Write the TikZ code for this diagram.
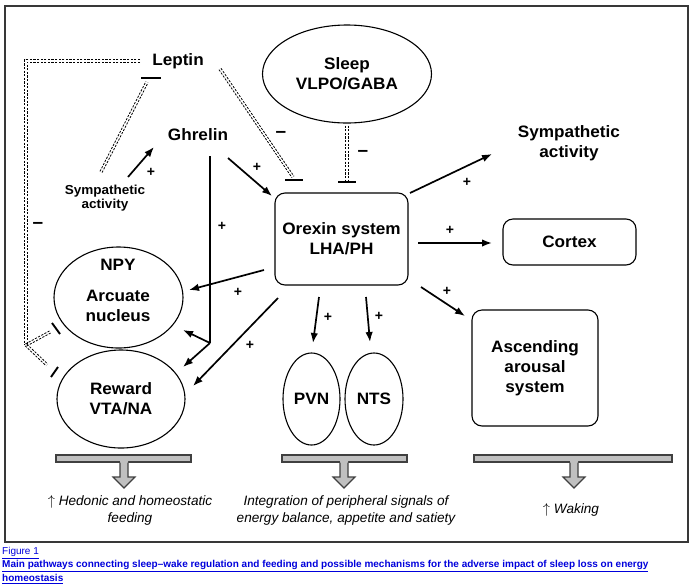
\documentclass[tikz,border=0pt]{standalone}
\usepackage{fontspec}
\setmainfont{Liberation Sans}
\newfontfamily\labf[FakeStretch=1.04]{Liberation Sans}
\usetikzlibrary{arrows.meta,shapes.geometric,calc}
\definecolor{capblue}{RGB}{0,0,220}
\definecolor{bargrey}{RGB}{192,192,192}
\tikzset{
  lab/.style={font=\labf\bfseries\fontsize{16.5}{20}\selectfont, align=center, inner sep=0pt},
  labs/.style={font=\labf\bfseries\fontsize{13}{14.5}\selectfont, align=center, inner sep=0pt},
  boxn/.style={draw, rounded corners=10pt, line width=1.1pt},
  ell/.style={draw, ellipse, line width=1.1pt, inner sep=0pt},
  arr/.style={-{Latex[length=10pt,width=7.5pt]}, line width=1.7pt},
  plainline/.style={line width=1.5pt},
  dd/.style={line width=0.8pt, dash pattern=on 2.2pt off 1.4pt},
  tbar/.style={line width=1.9pt},
  plus/.style={font=\bfseries\fontsize{14}{14}\selectfont, inner sep=0pt},
  minus/.style={font=\bfseries\fontsize{19}{19}\selectfont, inner sep=0pt},
  outt/.style={font=\itshape\fontsize{13.6}{17}\selectfont, align=center, inner sep=0pt},
  gbar/.style={fill=bargrey, draw=black!75, line width=1.2pt},
  captxt/.style={text=capblue, inner sep=0pt, anchor=west}
}
\newcommand{\dbl}[2]{%
  \draw[dd] ($(#1)!1.2pt!90:(#2)$) -- ($(#2)!1.2pt!-90:(#1)$);
  \draw[dd] ($(#1)!1.2pt!-90:(#2)$) -- ($(#2)!1.2pt!90:(#1)$);}
\begin{document}
\begin{tikzpicture}[x=1pt,y=-1pt]
\useasboundingbox (0,0) rectangle (695,587);
\fill[white] (0,0) rectangle (695,587);
\draw[line width=2.5pt, black!78] (5,6) rectangle (688,542);

% nodes
\node[lab] (leptin) at (178,61) {Leptin};
\node[ell, lab, minimum width=169, minimum height=98] (sleep) at (347,74) {\fontsize{16.5}{19}\selectfont Sleep\\VLPO/GABA};
\node[lab] (ghrelin) at (198,135) {Ghrelin};
\node[labs] (symL) at (105,198) {Sympathetic\\activity};
\node[lab] (symR) at (569,143) {Sympathetic\\activity};
\node[boxn, lab, minimum width=133, minimum height=92] (orexin) at (341.5,239) {Orexin system\\LHA/PH};
\node[boxn, lab, minimum width=133, minimum height=46] (cortex) at (569.5,242) {Cortex};
\node[boxn, lab, minimum width=126, minimum height=116] (asc) at (535,368) {Ascending\\arousal\\system};
\node[ell, lab, minimum width=57, minimum height=92] (pvn) at (311.5,399) {PVN};
\node[ell, lab, minimum width=58, minimum height=92] (nts) at (374,399) {NTS};
\node[ell, minimum width=129, minimum height=101] (arc) at (118.5,297.5) {};
\node[lab] (npy) at (118,265) {NPY};
\node[lab] (arct) at (118,306) {Arcuate\\nucleus};
\node[ell, lab, minimum width=128, minimum height=98] (rew) at (121,399) {Reward\\VTA/NA};

% arrows
\draw[arr] ([shift={(23,-21)}]symL.center) -- ([shift={(-44,12)}]ghrelin.center);
\draw[arr] ([shift={(30,23)}]ghrelin.center) -- ([shift={(-69.5,-43)}]orexin.center);
\coordinate (gj) at (210,343);
\draw[plainline] ([shift={(12,21)}]ghrelin.center) -- (gj);
\draw[arr] (gj) -- ([shift={(64.5,32.5)}]arc.center);
\draw[arr] (gj) -- ([shift={(62,-32)}]rew.center);
\draw[arr] ([shift={(68.5,-46)}]orexin.center) -- ([shift={(-77,11)}]symR.center);
\draw[arr] ([shift={(76.5,4)}]orexin.center) -- ([shift={(-77.5,1)}]cortex.center);
\draw[arr] ([shift={(79.5,48)}]orexin.center) -- ([shift={(-70,-52)}]asc.center);
\draw[arr] ([shift={(24.5,58)}]orexin.center) -- ([shift={(-4,-57)}]nts.center);
\draw[arr] ([shift={(-22.5,58)}]orexin.center) -- ([shift={(1.5,-56)}]pvn.center);
\draw[arr] ([shift={(-77.5,31)}]orexin.center) -- ([shift={(70.5,-7.5)}]arc.center);
\draw[arr] ([shift={(-63.5,59)}]orexin.center) -- ([shift={(72,-13)}]rew.center);

% inhibitory links
\coordinate (i1a) at ([shift={(-4,-26)}]symL.center);
\coordinate (i1b) at ([shift={(-31,21)}]leptin.center);
\dbl{i1a}{i1b}
\draw[tbar] ([shift={(-37,17)}]leptin.center) -- ([shift={(-17,17)}]leptin.center);
\coordinate (i2a) at ([shift={(42,8)}]leptin.center);
\coordinate (i2b) at ([shift={(-48.5,-62)}]orexin.center);
\dbl{i2a}{i2b}
\draw[tbar] ([shift={(-56.5,-59)}]orexin.center) -- ([shift={(-38.5,-59)}]orexin.center);
\coordinate (i3a) at ([shift={(0,2)}]sleep.south);
\coordinate (i3b) at ([shift={(5.5,-59)}]orexin.center);
\dbl{i3a}{i3b}
\draw[tbar] ([shift={(-3.5,-57)}]orexin.center) -- ([shift={(14.5,-57)}]orexin.center);
\coordinate (lj) at (26,345);
\coordinate (lp) at ([shift={(-38,0)}]leptin.center);
\coordinate (lc) at (lj |- lp);
\draw[dd] ([shift={(0,-1.2)}]lp) -- ([shift={(-1.2,-1.2)}]lc) -- ([shift={(-1.2,0)}]lj);
\draw[dd] ([shift={(0,1.2)}]lp) -- ([shift={(1.2,1.2)}]lc) -- ([shift={(1.2,0)}]lj);
\coordinate (i4b) at ([shift={(-68.5,34.5)}]arc.center);
\coordinate (i5b) at ([shift={(-74,-34)}]rew.center);
\dbl{lj}{i4b}
\dbl{lj}{i5b}
\draw[tbar] ([shift={(-66.5,25.5)}]arc.center) -- ([shift={(-58.5,36.5)}]arc.center);
\draw[tbar] ([shift={(-70,-22)}]rew.center) -- ([shift={(-63,-32)}]rew.center);

% signs
\node[plus] at (151,172) {+};
\node[plus] at (257,167) {+};
\node[plus] at (222,226) {+};
\node[plus] at (467,182) {+};
\node[plus] at (450,230) {+};
\node[plus] at (447,291) {+};
\node[plus] at (379,316) {+};
\node[plus] at (328,317) {+};
\node[plus] at (238,292) {+};
\node[plus] at (250,345) {+};
\node[minus] at (281,134) {–};
\node[minus] at (363,153) {–};
\node[minus] at (38,225) {–};

% grey bars and block arrows
\foreach \xa/\xb/\cx in {56/191/124, 282/407/344, 474/672/574}{
  \draw[gbar] (\xa,455) rectangle (\xb,462);
  \fill[bargrey] (\cx-4,460.5) -- (\cx-4,477) -- (\cx-11,477) -- (\cx,488) -- (\cx+11,477) -- (\cx+4,477) -- (\cx+4,460.5) -- cycle;
  \draw[black!75, line width=1.2pt, line join=miter] (\cx-4,462.6) -- (\cx-4,477) -- (\cx-11,477) -- (\cx,488) -- (\cx+11,477) -- (\cx+4,477) -- (\cx+4,462.6);
}

% outcome texts
\node[outt] (o1) at (130,510.5) {$\uparrow$ Hedonic and homeostatic\\feeding};
\node[outt] (o2) at (346,510) {Integration of peripheral signals of\\energy balance, appetite and satiety};
\node[outt] (o3) at (571,510) {$\uparrow$ Waking};

% caption
\node[captxt, font=\fontsize{10}{12}\selectfont] (c1) at (2,553) {\underline{Figure 1}};
\node[captxt, font=\bfseries\fontsize{10}{12}\selectfont] (c2) at (2,566) {\underline{Main pathways connecting sleep–wake regulation and feeding and possible mechanisms for the adverse impact of sleep loss on energy}};
\node[captxt, font=\bfseries\fontsize{10}{12}\selectfont] (c3) at (2,579) {\underline{homeostasis}};
\end{tikzpicture}
\end{document}
